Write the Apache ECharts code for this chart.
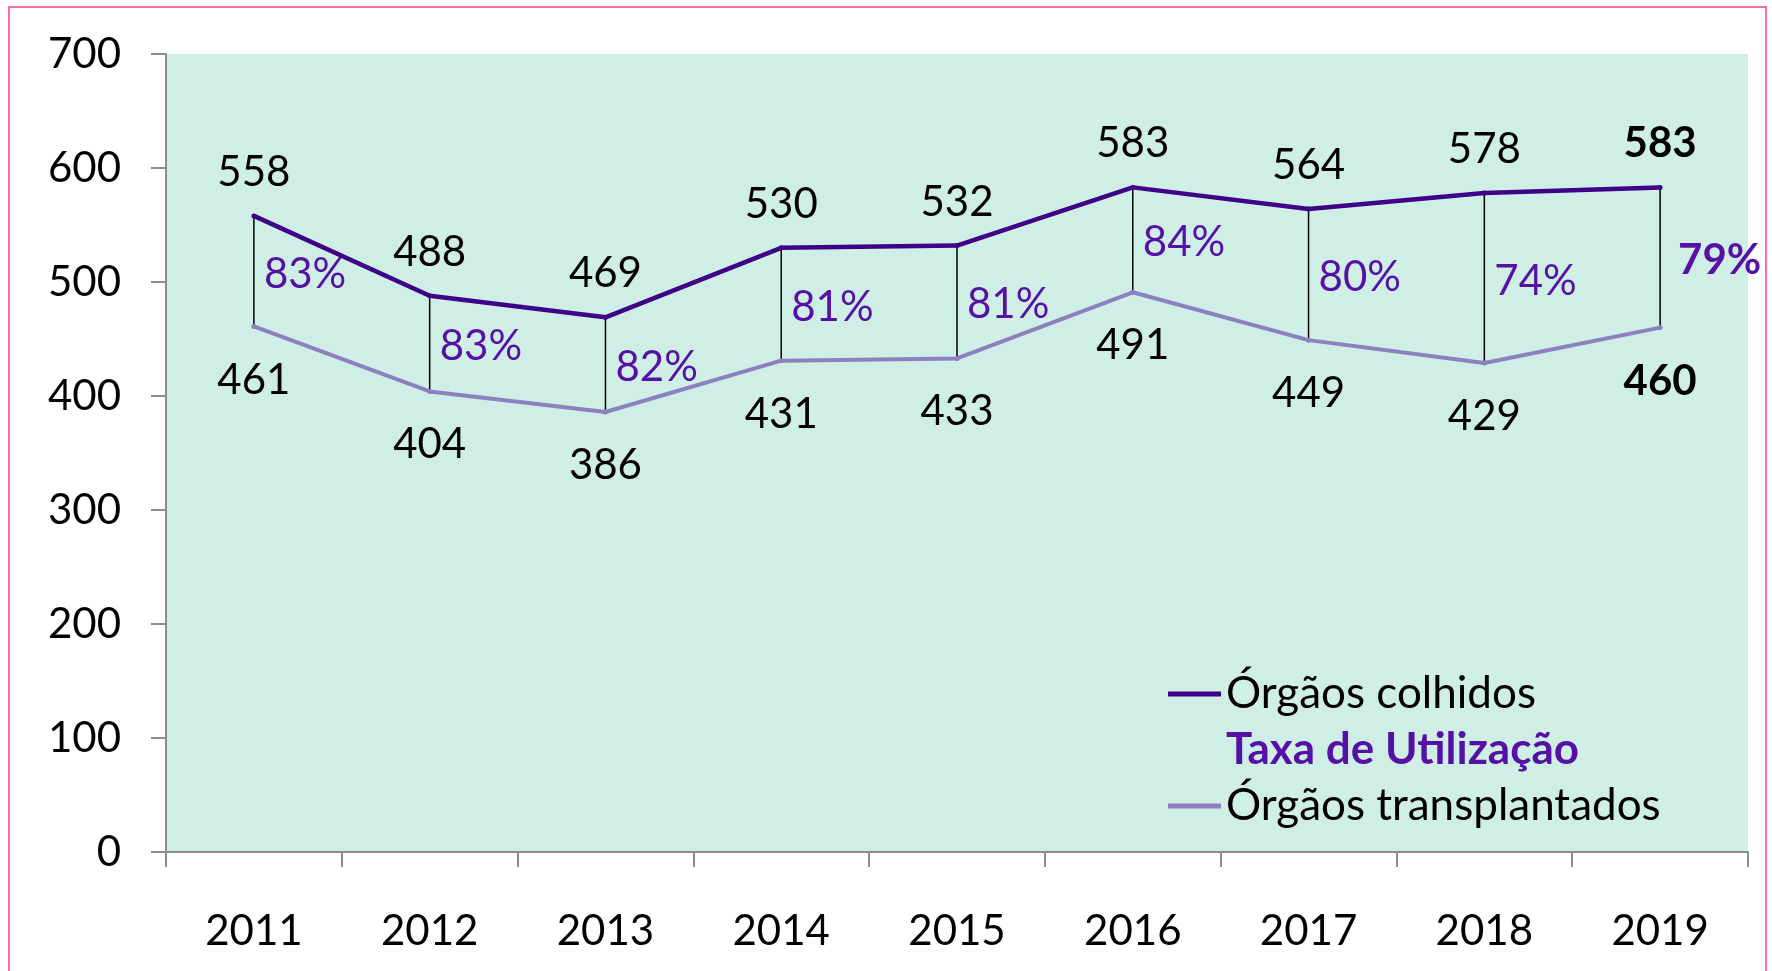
<!DOCTYPE html>
<html style="height: 100%">
<head>
    <meta charset="utf-8">
    <script src="https://cdn.jsdelivr.net/npm/echarts@6/dist/echarts.min.js"></script>
</head>
<body style="height: 100%; margin: 0; background: #fff;">
    <div id="container" style="width: 1772px; height: 971px;"></div>
    <script type="text/javascript">
        // dados
        var years = ['2011', '2012', '2013', '2014', '2015', '2016', '2017', '2018', '2019'];
        var colhidos = [558, 488, 469, 530, 532, 583, 564, 578, 583];
        var transplantados = [461, 404, 386, 431, 433, 491, 449, 429, 460];
        var taxas = ['83%', '83%', '82%', '81%', '81%', '84%', '80%', '74%', '79%'];
        var yTicks = [0, 100, 200, 300, 400, 500, 600, 700];

        var FONT = 'Lato';
        var PURPLE_TXT = '#5511A6';
        var last = years.length - 1;

        function boldLast(arr) {
            return arr.map(function (v, i) {
                return i === last ? {value: v, label: {fontWeight: 'bold'}} : v;
            });
        }

        var rangeData = years.map(function (y, i) {
            return [i, colhidos[i], transplantados[i]];
        });

        var myChart = echarts.init(document.getElementById('container'));
        var option = {
            animation: false,
            textStyle: {fontFamily: FONT},
            graphic: [{
                type: 'rect',
                shape: {x: 9, y: 7, width: 1757, height: 1000},
                style: {fill: 'none', stroke: '#FF6F93', lineWidth: 2},
                silent: true
            }],
            grid: {
                left: 166, top: 54, right: 24, bottom: 119,
                show: true, backgroundColor: '#CFEEE5', borderWidth: 0
            },
            legend: {
                orient: 'vertical',
                left: 1163,
                top: 667,
                itemWidth: 53,
                itemHeight: 5,
                itemGap: 12,
                icon: 'rect',
                textStyle: {fontFamily: FONT, fontSize: 44, lineHeight: 43, color: '#000'},
                data: [
                    {name: 'Órgãos colhidos'},
                    {name: 'Taxa de Utilização', itemStyle: {opacity: 0},
                     textStyle: {color: PURPLE_TXT, fontWeight: 'bold'}},
                    {name: 'Órgãos transplantados'}
                ]
            },
            xAxis: {
                type: 'category',
                data: years,
                axisLine: {lineStyle: {color: '#8C8C8C', width: 2}},
                axisTick: {show: true, length: 15, lineStyle: {color: '#8C8C8C', width: 2}},
                axisLabel: {fontFamily: FONT, fontSize: 42, color: '#000', margin: 58}
            },
            yAxis: {
                type: 'value',
                min: yTicks[0],
                max: yTicks[yTicks.length - 1],
                interval: 100,
                axisLine: {show: true, lineStyle: {color: '#8C8C8C', width: 2}},
                axisTick: {show: true, length: 15, lineStyle: {color: '#8C8C8C', width: 2}},
                splitLine: {show: false},
                axisLabel: {fontFamily: FONT, fontSize: 42, color: '#000', margin: 45}
            },
            series: [
                {
                    name: 'Taxa de Utilização',
                    type: 'custom',
                    z: 1,
                    itemStyle: {color: PURPLE_TXT},
                    encode: {x: 0, y: [1, 2]},
                    data: rangeData,
                    renderItem: function (params, api) {
                        var idx = params.dataIndex;
                        var hi = api.coord([api.value(0), api.value(1)]);
                        var lo = api.coord([api.value(0), api.value(2)]);
                        var isLast = idx === last;
                        return {
                            type: 'group',
                            children: [{
                                type: 'line',
                                shape: {x1: hi[0], y1: hi[1], x2: lo[0], y2: lo[1]},
                                style: {stroke: '#000', lineWidth: 1.5}
                            }, {
                                type: 'text',
                                style: {
                                    x: hi[0] + (isLast ? 18 : 10),
                                    y: (hi[1] + lo[1]) / 2 + 3,
                                    text: taxas[idx],
                                    fill: PURPLE_TXT,
                                    font: (isLast ? 'bold ' : '') + '42px ' + FONT,
                                    align: 'left',
                                    verticalAlign: 'middle'
                                }
                            }]
                        };
                    }
                },
                {
                    name: 'Órgãos colhidos',
                    type: 'line',
                    z: 3,
                    data: boldLast(colhidos),
                    symbol: 'circle',
                    symbolSize: 5,
                    color: '#3F0088',
                    lineStyle: {width: 4.5, color: '#3F0088'},
                    label: {
                        show: true, position: 'top', distance: 20,
                        fontFamily: FONT, fontSize: 42, color: '#000'
                    }
                },
                {
                    name: 'Órgãos transplantados',
                    type: 'line',
                    z: 2,
                    data: boldLast(transplantados),
                    symbol: 'circle',
                    symbolSize: 5,
                    color: '#8E80C0',
                    lineStyle: {width: 4, color: '#8E80C0'},
                    label: {
                        show: true, position: 'bottom', distance: 30,
                        fontFamily: FONT, fontSize: 42, color: '#000'
                    }
                }
            ]
        };
        myChart.setOption(option);
    </script>
</body>
</html>
